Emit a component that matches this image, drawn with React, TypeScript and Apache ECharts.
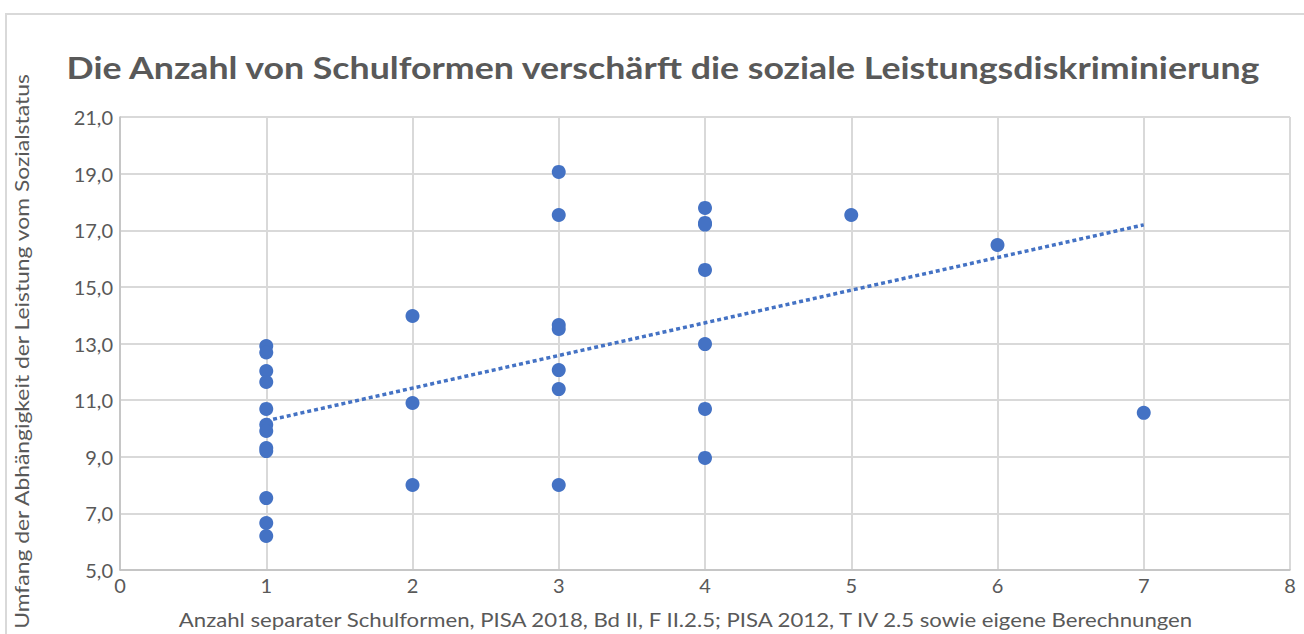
import React, { useEffect, useRef } from "react";
import * as echarts from "echarts";

const title = "Die Anzahl von Schulformen verschärft die soziale Leistungsdiskriminierung";
const xAxisTitle = "Anzahl separater Schulformen, PISA 2018, Bd II, F II.2.5; PISA 2012, T IV 2.5 sowie eigene Berechnungen";
const yAxisTitle = "Umfang der Abhängigkeit der Leistung vom Sozialstatus";

const schoolTypes = [
  1, 1, 1, 1, 1, 1, 1, 1, 1, 1, 1, 1,
  2, 2, 2,
  3, 3, 3, 3, 3, 3, 3,
  4, 4, 4, 4, 4, 4, 4,
  5, 6, 7,
];
const dependency = [
  12.91, 12.68, 12.03, 11.64, 10.69, 10.13, 9.91, 9.31, 9.20, 7.54, 6.66, 6.20,
  13.97, 10.90, 8.00,
  19.06, 17.54, 13.65, 13.51, 12.06, 11.39, 8.00,
  17.79, 17.26, 17.20, 15.60, 12.98, 10.69, 8.96,
  17.54, 16.48, 10.55,
];
const trendX = [1, 7];
const trendY = [10.27, 17.19];

const fmt = (v: number) => v.toFixed(1).replace(".", ",");

export default function App() {
  const ref = useRef<HTMLDivElement>(null);
  useEffect(() => {
    const chart = echarts.init(ref.current!, null, { renderer: "svg" });
    const font = "Lato, 'Open Sans', sans-serif";
    chart.setOption({
      animation: false,
      textStyle: { fontFamily: font },
      grid: { left: 120, right: 14, top: 117, bottom: 64 },
      xAxis: {
        type: "value",
        min: 0,
        max: 8,
        interval: 1,
        axisLine: { show: true, lineStyle: { color: "#bfbfbf", width: 1.5 } },
        axisTick: { show: false },
        splitLine: { show: true, lineStyle: { color: "#d9d9d9", width: 2 } },
        axisLabel: { color: "#595959", fontSize: 20, margin: 5, fontFamily: font },
      },
      yAxis: {
        type: "value",
        min: 5,
        max: 21,
        interval: 2,
        axisLine: { show: true, lineStyle: { color: "#bfbfbf", width: 1.5 } },
        axisTick: { show: false },
        splitLine: { show: true, lineStyle: { color: "#d9d9d9", width: 2 } },
        axisLabel: { color: "#595959", fontSize: 20, margin: 7, fontFamily: font, formatter: fmt },
      },
      graphic: [
        {
          type: "rect",
          shape: { x: 6, y: 14, width: 1320, height: 660 },
          style: { fill: "none", stroke: "#d9d9d9", lineWidth: 2 },
          silent: true,
        },
        {
          type: "text",
          x: 663,
          y: 67,
          scaleX: 1.152,
          style: {
            text: title,
            font: `bold 31px ${font}`,
            fill: "#595959",
            textAlign: "center",
            textVerticalAlign: "middle",
          },
        },
        {
          type: "text",
          x: 685.5,
          y: 620,
          scaleX: 1.167,
          style: {
            text: xAxisTitle,
            font: `19px ${font}`,
            fill: "#595959",
            textAlign: "center",
            textVerticalAlign: "middle",
          },
        },
        {
          type: "text",
          x: 21,
          y: 351.5,
          rotation: Math.PI / 2,
          scaleX: 1.205,
          style: {
            text: yAxisTitle,
            font: `19px ${font}`,
            fill: "#595959",
            textAlign: "center",
            textVerticalAlign: "middle",
          },
        },
      ],
      series: [
        {
          type: "scatter",
          symbolSize: 14,
          itemStyle: { color: "#4472C4", opacity: 1 },
          data: schoolTypes.map((x, i) => [x, dependency[i]]),
          z: 3,
        },
        {
          type: "line",
          data: trendX.map((x, i) => [x, trendY[i]]),
          showSymbol: false,
          symbol: "none",
          lineStyle: { color: "#4472C4", width: 3.5, type: [4, 3] },
          z: 2,
        },
      ],
    });
    return () => chart.dispose();
  }, []);
  return (
    <div
      ref={ref}
      style={{ position: "fixed", left: 0, top: 0, width: 1304, height: 634, background: "#fff" }}
    />
  );
}
